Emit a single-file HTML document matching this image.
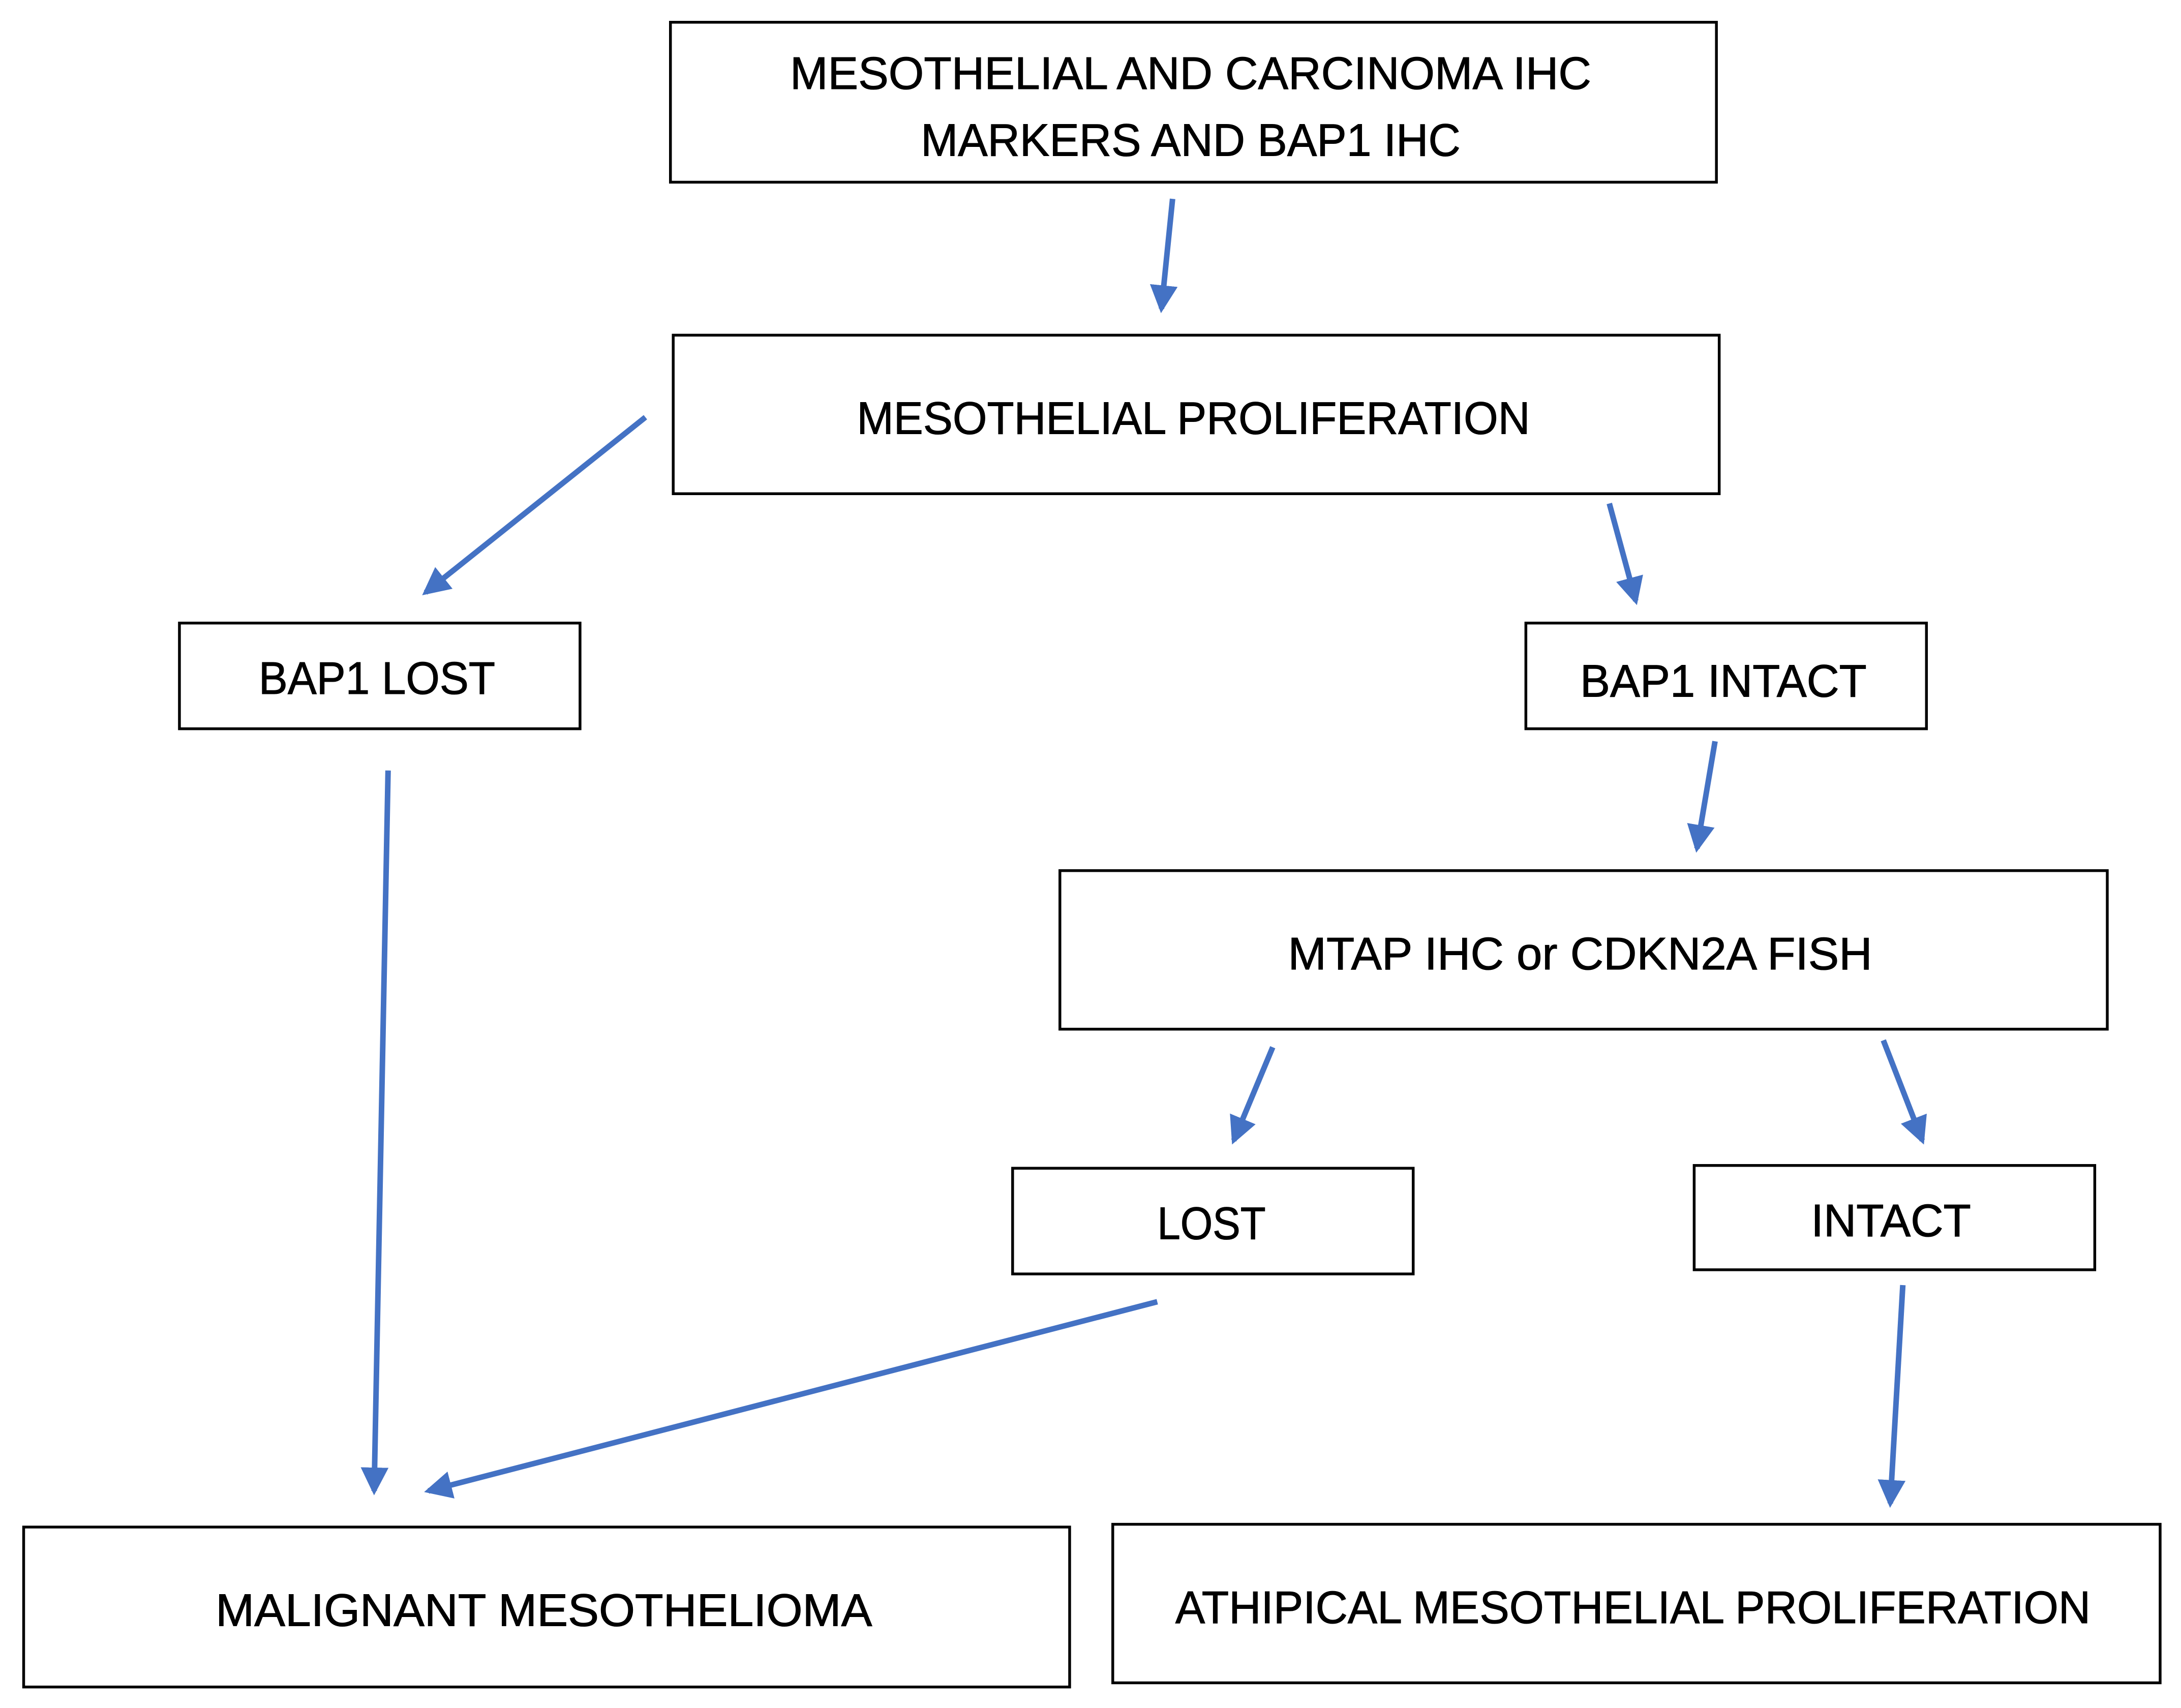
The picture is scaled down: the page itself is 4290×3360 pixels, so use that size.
<!DOCTYPE html>
<html><head><meta charset="utf-8"><style>html,body{margin:0;padding:0;background:#fff}svg{display:block}</style></head>
<body>
<svg width="4290" height="3360" viewBox="0 0 1568 1228.1" preserveAspectRatio="none" xmlns="http://www.w3.org/2000/svg">
<defs>
<marker id="ah" markerWidth="5" markerHeight="5" refX="4.2" refY="2.5" orient="auto" markerUnits="strokeWidth">
<path d="M0,0 L5,2.5 L0,5 Z" fill="#4472C4"/>
</marker>
</defs>
<g fill="#fff" stroke="#000" stroke-width="2">
<rect x="482" y="16" width="752" height="115"/>
<rect x="484" y="241" width="752" height="114"/>
<rect x="129" y="448" width="288" height="76"/>
<rect x="1097" y="448" width="288" height="76"/>
<rect x="762" y="626" width="753" height="114"/>
<rect x="728" y="840" width="288" height="76"/>
<rect x="1218" y="838" width="288" height="75"/>
<rect x="17" y="1098" width="752" height="115"/>
<rect x="800" y="1096" width="753" height="114"/>
</g>
<g font-family="Liberation Sans, sans-serif" font-size="33" fill="#000" stroke="#000" stroke-width="0.4">
<text x="568" y="64" textLength="576" lengthAdjust="spacingAndGlyphs">MESOTHELIAL AND CARCINOMA IHC</text>
<text x="662" y="112" textLength="388" lengthAdjust="spacingAndGlyphs">MARKERS AND BAP1 IHC</text>
<text x="616" y="312" textLength="484" lengthAdjust="spacingAndGlyphs">MESOTHELIAL PROLIFERATION</text>
<text x="186" y="499" textLength="170" lengthAdjust="spacingAndGlyphs">BAP1 LOST</text>
<text x="1136" y="501" textLength="206" lengthAdjust="spacingAndGlyphs">BAP1 INTACT</text>
<text x="926" y="697" textLength="420" lengthAdjust="spacingAndGlyphs">MTAP IHC or CDKN2A FISH</text>
<text x="832" y="891" textLength="78" lengthAdjust="spacingAndGlyphs">LOST</text>
<text x="1302" y="889" textLength="115" lengthAdjust="spacingAndGlyphs">INTACT</text>
<text x="155" y="1169" textLength="472" lengthAdjust="spacingAndGlyphs">MALIGNANT MESOTHELIOMA</text>
<text x="845" y="1167" textLength="658" lengthAdjust="spacingAndGlyphs">ATHIPICAL MESOTHELIAL PROLIFERATION</text>
</g>
<g stroke="#4472C4" stroke-width="4" fill="none" marker-end="url(#ah)">
<line x1="843" y1="143" x2="835" y2="222"/>
<line x1="464" y1="300" x2="306" y2="426"/>
<line x1="1157" y1="362" x2="1176" y2="432"/>
<line x1="1233" y1="533" x2="1220" y2="610"/>
<line x1="279" y1="554" x2="269" y2="1072"/>
<line x1="915" y1="753" x2="887" y2="820"/>
<line x1="1354" y1="748" x2="1382" y2="820"/>
<line x1="832" y1="936" x2="308" y2="1072"/>
<line x1="1368" y1="924" x2="1359" y2="1081"/>
</g>
</svg>
</body></html>
